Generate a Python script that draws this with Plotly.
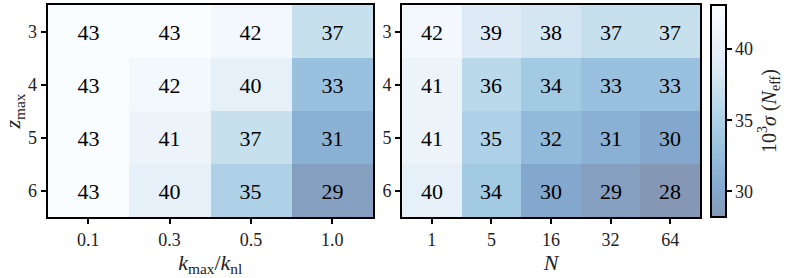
import plotly.graph_objects as go

z_labels = ["3", "4", "5", "6"]
k_labels = ["0.1", "0.3", "0.5", "1.0"]
n_labels = ["1", "5", "16", "32", "64"]

sigma_k = [
    [43, 43, 42, 37],
    [43, 42, 40, 33],
    [43, 41, 37, 31],
    [43, 40, 35, 29],
]
sigma_n = [
    [42, 39, 38, 37, 37],
    [41, 36, 34, 33, 33],
    [41, 35, 32, 31, 30],
    [40, 34, 30, 29, 28],
]

zmin, zmax = 28.2, 43.1

# Blues colormap blended at alpha 0.5 over white, low values dark
blues = [(247,251,255),(222,235,247),(198,219,239),(158,202,225),(107,174,214),
         (66,146,198),(33,113,181),(8,81,156),(8,48,107)]
def blend(c, a=0.5):
    return "rgb(%d,%d,%d)" % tuple(round(a*v + (1-a)*255) for v in c)
n = len(blues)
colorscale = [[i/(n-1), blend(blues[n-1-i])] for i in range(n)]

FONT = "Liberation Serif, DejaVu Serif, serif"
W, H = 789, 278
TXT = "#222"

fig = go.Figure()
fig.add_trace(go.Heatmap(
    z=sigma_k, x=list(range(len(k_labels))), y=list(range(len(z_labels))),
    zmin=zmin, zmax=zmax, colorscale=colorscale, showscale=False,
    text=[[str(v) for v in row] for row in sigma_k], texttemplate="%{text}",
    textfont=dict(family=FONT, size=22, color="black"),
    xaxis="x", yaxis="y", hoverinfo="skip",
))
fig.add_trace(go.Heatmap(
    z=sigma_n, x=list(range(len(n_labels))), y=list(range(len(z_labels))),
    zmin=zmin, zmax=zmax, colorscale=colorscale, showscale=True,
    text=[[str(v) for v in row] for row in sigma_n], texttemplate="%{text}",
    textfont=dict(family=FONT, size=22, color="black"),
    xaxis="x2", yaxis="y2", hoverinfo="skip",
    colorbar=dict(
        x=711/W, xanchor="left", xpad=0, ypad=0,
        y=1-111/H, yanchor="middle",
        len=212, lenmode="pixels", thickness=15, thicknessmode="pixels",
        outlinewidth=2, outlinecolor="black",
        tickvals=[30, 35, 40], ticks="outside", ticklen=5, tickwidth=2,
        tickcolor="black",
        tickfont=dict(family=FONT, size=18, color=TXT),
        title=dict(text="10<sup>3</sup><i>σ</i> (<i>N</i><sub>eff</sub>)", side="right",
                   font=dict(family=FONT, size=20, color=TXT)),
    ),
))

axis_common = dict(showline=True, linewidth=2, linecolor="black", mirror=True,
                   ticks="outside", ticklen=5, tickwidth=2, tickcolor="black",
                   showgrid=False, zeroline=False, automargin=False,
                   tickfont=dict(family=FONT, size=18, color=TXT))

ytop, ybot = 1-5/H, 1-217/H
fig.update_layout(
    width=W, height=H, margin=dict(l=0, r=0, t=0, b=0),
    paper_bgcolor="white", plot_bgcolor="white",
    xaxis=dict(domain=[47.5/W, 373/W], anchor="y", range=[-0.5, 3.5],
               tickvals=list(range(len(k_labels))), ticktext=k_labels,
               title=dict(text="<i>k</i><sub>max</sub>/<i>k</i><sub>nl</sub>", standoff=0,
                          font=dict(family=FONT, size=22, color=TXT)),
               **axis_common),
    yaxis=dict(domain=[ybot, ytop], anchor="x", range=[3.5, -0.5],
               tickvals=list(range(len(z_labels))), ticktext=z_labels,
               title=dict(text="<i>z</i><sub>max</sub>", standoff=2,
                          font=dict(family=FONT, size=22, color=TXT)),
               **axis_common),
    xaxis2=dict(domain=[402/W, 700/W], anchor="y2", range=[-0.5, 4.5],
                tickvals=list(range(len(n_labels))), ticktext=n_labels,
                title=dict(text="<i>N</i>", standoff=0,
                           font=dict(family=FONT, size=22, color=TXT)),
                **axis_common),
    yaxis2=dict(domain=[ybot, ytop], anchor="x2", range=[3.5, -0.5],
                tickvals=list(range(len(z_labels))), ticktext=z_labels,
                **axis_common),
)

fig.write_html("out.html", config={"displayModeBar": False},
               post_script="document.body.style.margin='0px';document.body.style.padding='0px';")
